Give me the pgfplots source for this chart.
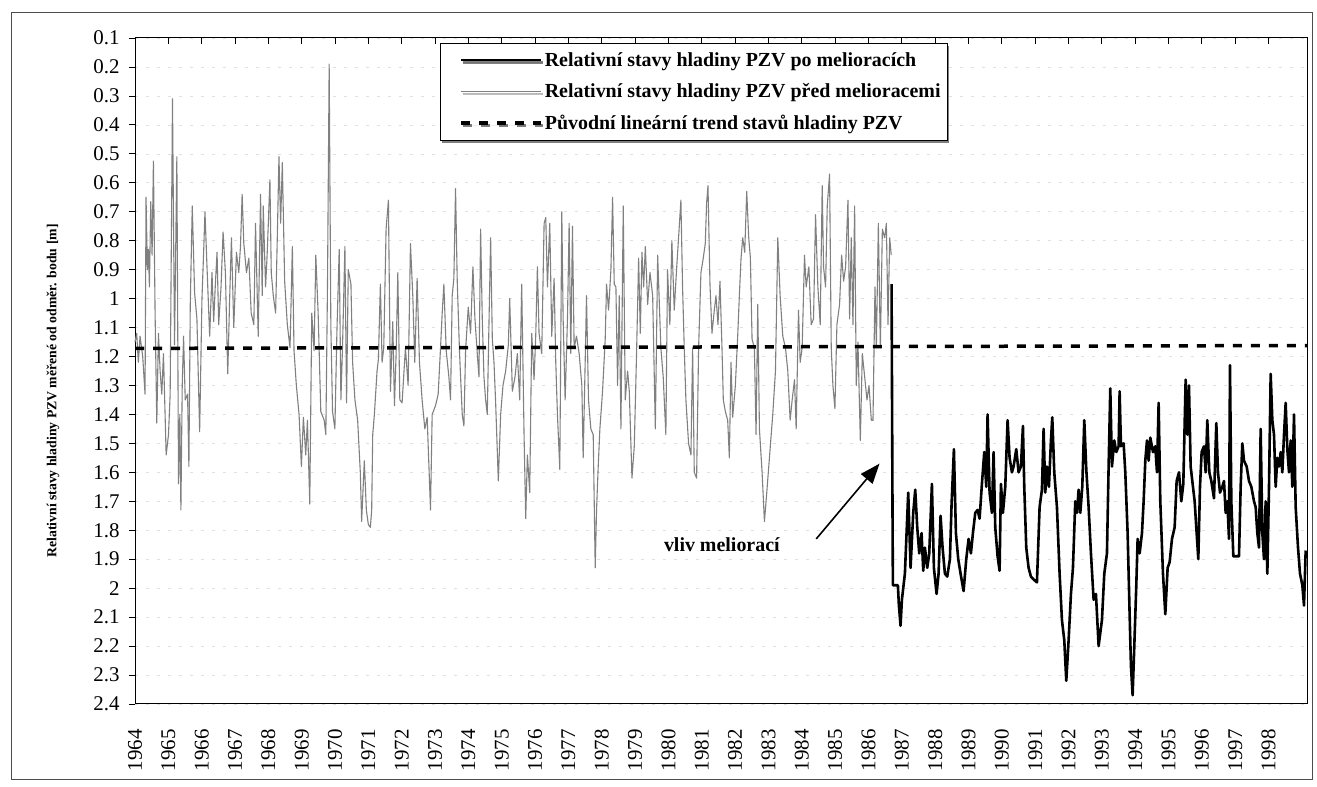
\documentclass[border=0pt]{standalone}
\usepackage{fontspec}
\setmainfont{Liberation Serif}
\usepackage{pgfplots}
\pgfplotsset{compat=1.18}
\usepackage{pgfplotstable}
\usetikzlibrary{arrows.meta,shadows}

\pgfplotstableread{
x y
1964.000 1.15
1964.050 1.12
1964.100 1.22
1964.151 1.13
1964.231 1.20
1964.301 1.33
1964.331 0.65
1964.371 0.90
1964.402 0.83
1964.432 0.96
1964.472 0.665
1964.512 0.85
1964.552 0.525
1964.602 1.05
1964.653 1.43
1964.703 1.12
1964.753 1.25
1964.803 1.33
1964.853 1.19
1964.934 1.54
1965.004 1.47
1965.054 1.33
1965.124 0.31
1965.185 1.16
1965.255 0.51
1965.305 1.64
1965.345 1.40
1965.376 1.73
1965.416 1.30
1965.456 1.13
1965.506 1.35
1965.576 1.33
1965.616 1.58
1965.657 1.02
1965.717 0.68
1965.787 0.98
1965.857 1.07
1965.938 1.46
1966.008 1.00
1966.058 0.84
1966.098 0.70
1966.159 0.89
1966.239 1.13
1966.309 0.91
1966.359 1.08
1966.410 0.95
1966.460 0.84
1966.510 1.09
1966.580 0.96
1966.641 0.77
1966.711 0.91
1966.781 1.26
1966.841 0.99
1966.892 0.79
1966.962 1.10
1967.042 0.84
1967.112 0.91
1967.163 0.82
1967.213 0.64
1967.263 0.81
1967.343 0.91
1967.414 0.86
1967.484 1.05
1967.564 1.09
1967.614 0.74
1967.695 1.13
1967.765 0.64
1967.815 0.99
1967.845 0.68
1967.916 0.96
1967.966 0.84
1968.046 0.59
1968.086 0.91
1968.147 0.99
1968.217 1.05
1968.267 0.79
1968.317 0.51
1968.367 0.74
1968.418 0.53
1968.488 0.94
1968.568 1.09
1968.649 1.17
1968.719 0.82
1968.769 1.18
1968.839 1.30
1968.920 1.40
1968.990 1.58
1969.050 1.41
1969.120 1.54
1969.171 1.42
1969.241 1.71
1969.301 1.05
1969.371 1.18
1969.422 0.85
1969.492 1.05
1969.572 1.39
1969.673 1.42
1969.723 1.47
1969.773 0.95
1969.823 0.19
1969.873 1.09
1969.924 1.39
1969.994 1.45
1970.054 1.12
1970.124 0.83
1970.175 1.35
1970.225 1.16
1970.295 0.82
1970.345 1.36
1970.396 0.90
1970.476 0.95
1970.526 1.22
1970.596 1.35
1970.677 1.42
1970.757 1.60
1970.797 1.77
1970.877 1.56
1970.938 1.73
1970.998 1.78
1971.058 1.79
1971.098 1.73
1971.129 1.47
1971.179 1.40
1971.259 1.25
1971.299 1.21
1971.359 0.95
1971.410 1.22
1971.460 1.17
1971.530 0.76
1971.600 0.66
1971.661 1.32
1971.731 1.08
1971.781 1.37
1971.831 1.19
1971.882 0.91
1971.942 1.35
1972.010 1.36
1972.110 1.17
1972.191 1.30
1972.261 0.81
1972.331 0.99
1972.391 1.22
1972.461 0.93
1972.531 1.22
1972.611 1.35
1972.692 1.45
1972.762 1.41
1972.862 1.73
1972.912 1.40
1973.012 1.37
1973.092 1.33
1973.163 1.17
1973.213 1.05
1973.263 0.95
1973.333 1.18
1973.413 1.27
1973.463 1.35
1973.513 0.99
1973.563 0.93
1973.613 0.62
1973.664 0.94
1973.734 1.19
1973.814 1.40
1973.864 1.44
1973.914 1.18
1973.994 1.03
1974.064 1.12
1974.134 0.89
1974.195 1.07
1974.265 1.19
1974.315 1.27
1974.365 0.76
1974.415 1.07
1974.465 1.27
1974.515 1.35
1974.565 1.40
1974.615 1.09
1974.666 0.79
1974.716 1.14
1974.766 1.22
1974.816 1.36
1974.896 1.63
1974.966 1.40
1975.036 1.30
1975.116 1.25
1975.197 1.16
1975.237 1.00
1975.317 1.32
1975.397 1.27
1975.467 1.19
1975.537 1.35
1975.597 0.95
1975.668 1.47
1975.718 1.76
1975.768 1.54
1975.838 1.67
1975.898 1.12
1975.968 1.28
1976.018 1.13
1976.068 0.89
1976.118 1.12
1976.198 1.19
1976.269 0.74
1976.319 0.72
1976.369 0.96
1976.439 0.74
1976.499 1.13
1976.569 0.93
1976.619 1.22
1976.669 1.40
1976.740 1.59
1976.800 0.70
1976.840 1.07
1976.900 1.35
1976.970 1.07
1977.020 0.74
1977.070 1.19
1977.120 0.75
1977.170 1.17
1977.241 1.13
1977.321 1.19
1977.401 1.30
1977.441 1.55
1977.501 1.22
1977.541 0.99
1977.601 1.35
1977.671 1.45
1977.742 1.47
1977.802 1.93
1977.842 1.73
1977.892 1.58
1977.942 1.45
1978.022 1.32
1978.102 1.14
1978.142 0.95
1978.202 1.04
1978.273 0.90
1978.323 0.65
1978.373 0.95
1978.423 0.96
1978.473 1.30
1978.523 0.99
1978.573 1.45
1978.643 0.68
1978.703 1.35
1978.774 1.25
1978.824 1.32
1978.904 1.62
1978.974 1.51
1979.044 1.18
1979.104 0.86
1979.154 1.12
1979.204 0.84
1979.255 0.96
1979.305 0.82
1979.375 1.02
1979.445 0.91
1979.525 0.99
1979.605 1.45
1979.675 0.85
1979.771 1.17
1979.841 1.27
1979.921 1.47
1979.971 0.90
1980.041 1.09
1980.101 0.80
1980.172 1.04
1980.242 0.90
1980.302 0.79
1980.372 0.66
1980.422 0.96
1980.472 1.17
1980.522 1.35
1980.602 1.50
1980.673 1.54
1980.723 1.17
1980.773 1.60
1980.843 1.62
1980.903 1.17
1980.973 0.91
1981.043 0.86
1981.103 0.81
1981.143 0.67
1981.184 0.61
1981.244 0.95
1981.304 1.12
1981.374 1.04
1981.424 0.99
1981.484 1.09
1981.544 0.94
1981.604 1.17
1981.644 1.35
1981.705 1.39
1981.775 1.42
1981.825 1.55
1981.875 1.22
1981.925 1.41
1982.005 1.30
1982.075 1.13
1982.125 0.99
1982.176 0.86
1982.226 0.79
1982.286 0.84
1982.346 0.63
1982.406 0.79
1982.456 0.86
1982.506 1.14
1982.576 1.17
1982.626 1.47
1982.677 1.02
1982.727 1.45
1982.807 1.60
1982.877 1.77
1982.947 1.67
1983.027 1.55
1983.127 1.40
1983.208 1.25
1983.278 0.79
1983.348 0.99
1983.428 1.13
1983.508 1.17
1983.578 1.25
1983.648 1.42
1983.709 1.35
1983.779 1.28
1983.829 1.45
1983.899 1.04
1983.949 1.22
1984.009 1.17
1984.079 0.85
1984.129 0.96
1984.210 0.89
1984.280 1.09
1984.350 1.07
1984.410 0.71
1984.480 0.96
1984.550 1.09
1984.610 0.61
1984.650 0.89
1984.711 0.96
1984.761 0.68
1984.831 0.57
1984.881 1.17
1984.931 1.30
1984.991 1.38
1985.051 1.09
1985.131 1.02
1985.192 0.85
1985.252 0.94
1985.312 0.89
1985.382 0.66
1985.432 1.07
1985.482 0.79
1985.532 1.09
1985.582 0.68
1985.632 1.30
1985.682 1.15
1985.753 1.49
1985.813 1.19
1985.883 1.27
1985.953 1.35
1986.013 1.30
1986.083 1.42
1986.133 1.42
1986.193 0.96
1986.234 1.17
1986.294 0.74
1986.354 1.17
1986.414 0.76
1986.484 0.79
1986.534 0.74
1986.584 1.09
1986.634 0.79
1986.680 0.85
}\before

\pgfplotstableread{
x y
1986.690 0.95
1986.720 1.77
1986.730 1.99
1986.880 1.99
1986.910 2.06
1986.960 2.13
1987.000 2.04
1987.040 2.00
1987.090 1.95
1987.140 1.81
1987.190 1.67
1987.260 1.93
1987.340 1.74
1987.400 1.66
1987.460 1.79
1987.520 1.88
1987.590 1.81
1987.640 1.94
1987.690 1.86
1987.760 1.93
1987.820 1.88
1987.900 1.64
1987.960 1.93
1988.040 2.02
1988.100 1.95
1988.160 1.75
1988.220 1.86
1988.290 1.95
1988.360 1.96
1988.440 1.90
1988.490 1.71
1988.560 1.52
1988.620 1.81
1988.690 1.90
1988.760 1.95
1988.850 2.01
1988.930 1.90
1989.000 1.83
1989.070 1.88
1989.130 1.81
1989.200 1.74
1989.270 1.73
1989.330 1.76
1989.400 1.64
1989.470 1.53
1989.530 1.65
1989.570 1.40
1989.630 1.67
1989.700 1.74
1989.750 1.53
1989.800 1.79
1989.870 1.89
1989.930 1.94
1989.970 1.64
1990.030 1.74
1990.100 1.65
1990.170 1.42
1990.230 1.55
1990.300 1.60
1990.350 1.58
1990.430 1.52
1990.500 1.60
1990.570 1.58
1990.630 1.44
1990.670 1.65
1990.730 1.86
1990.800 1.93
1990.870 1.96
1990.950 1.97
1991.050 1.98
1991.130 1.72
1991.200 1.66
1991.250 1.45
1991.300 1.67
1991.350 1.58
1991.410 1.65
1991.470 1.49
1991.510 1.41
1991.570 1.60
1991.650 1.72
1991.730 1.95
1991.800 2.11
1991.870 2.18
1991.930 2.32
1992.000 2.18
1992.070 2.02
1992.130 1.93
1992.200 1.70
1992.250 1.74
1992.300 1.66
1992.350 1.74
1992.410 1.65
1992.470 1.42
1992.530 1.59
1992.600 1.72
1992.670 1.88
1992.750 2.04
1992.820 2.02
1992.900 2.20
1993.000 2.11
1993.070 1.95
1993.150 1.88
1993.200 1.58
1993.250 1.31
1993.300 1.58
1993.370 1.49
1993.430 1.53
1993.500 1.51
1993.530 1.32
1993.570 1.51
1993.650 1.50
1993.700 1.60
1993.770 1.81
1993.830 2.09
1993.870 2.27
1993.920 2.37
1993.970 2.20
1994.030 1.99
1994.070 1.83
1994.130 1.88
1994.200 1.81
1994.250 1.70
1994.300 1.56
1994.350 1.49
1994.400 1.56
1994.450 1.48
1994.530 1.53
1994.600 1.51
1994.650 1.60
1994.700 1.36
1994.750 1.70
1994.830 1.95
1994.900 2.09
1994.970 1.93
1995.030 1.91
1995.100 1.83
1995.180 1.79
1995.240 1.63
1995.310 1.60
1995.380 1.70
1995.440 1.64
1995.510 1.28
1995.560 1.47
1995.610 1.30
1995.660 1.58
1995.710 1.63
1995.780 1.70
1995.840 1.81
1995.890 1.90
1995.940 1.65
1995.990 1.53
1996.060 1.51
1996.110 1.60
1996.160 1.42
1996.220 1.60
1996.280 1.63
1996.360 1.69
1996.430 1.43
1996.480 1.60
1996.540 1.67
1996.610 1.65
1996.660 1.63
1996.710 1.74
1996.760 1.70
1996.810 1.83
1996.840 1.23
1996.880 1.70
1996.940 1.89
1997.110 1.89
1997.160 1.65
1997.210 1.50
1997.260 1.56
1997.340 1.58
1997.410 1.63
1997.480 1.65
1997.560 1.70
1997.610 1.72
1997.660 1.81
1997.710 1.86
1997.760 1.45
1997.810 1.81
1997.860 1.90
1997.910 1.70
1997.960 1.95
1998.010 1.65
1998.060 1.26
1998.110 1.42
1998.160 1.47
1998.210 1.65
1998.260 1.55
1998.310 1.58
1998.360 1.53
1998.410 1.60
1998.460 1.47
1998.510 1.36
1998.560 1.52
1998.610 1.60
1998.660 1.49
1998.710 1.65
1998.760 1.40
1998.810 1.72
1998.880 1.86
1998.940 1.95
1999.010 1.99
1999.060 2.06
1999.110 1.87
}\after

\pgfplotstableread{
x y
1964.00 1.172
1999.15 1.162
}\trend

\begin{document}
\begin{tikzpicture}
\begin{axis}[
  scale only axis,
  width=1172bp, height=666bp,
  xmin=1964, xmax=1999.15,
  ymin=0.1, ymax=2.4,
  y dir=reverse,
  clip=false,
  axis line style={black, line width=1bp},
  xtick={1964,...,1998},
  ytick={0.1,0.2,...,2.41},
  xtick pos=right,
  xticklabel pos=left,
  ytick pos=left,
  tick align=inside,
  major tick length=6bp,
  tick style={black, line width=0.8bp},
  y tick style={xshift=-6bp},
  ymajorgrids,
  major grid style={black!12, line width=0.6bp, dash pattern=on 3bp off 8bp},
  /pgf/number format/assume math mode=true,
  ticklabel style={font=\fontsize{21}{21}\selectfont},
  xticklabel style={rotate=90, anchor=east, /pgf/number format/1000 sep={}},
  xticklabel shift=22bp,
  yticklabel style={/pgf/number format/.cd, fixed, precision=1},
  yticklabel shift=12bp,
  ylabel={Relativní stavy hladiny PZV měřené od odměr. bodu [m]},
  every axis y label/.style={at={(axis description cs:-0.070,0.47)}, rotate=90, anchor=center, font=\fontsize{13.8}{13.8}\selectfont\bfseries},
  legend style={at={(axis description cs:0.2602,0.9925)}, anchor=north west,
    draw=black, line width=0.8bp, fill=white,
    font=\fontsize{20}{20}\selectfont\bfseries,
    inner xsep=5bp, inner ysep=7bp, row sep=12bp,
    drop shadow={shadow xshift=1.5bp, shadow yshift=-2.5bp, fill=black}},
  legend cell align=left,
  legend image code/.code={\path (-14bp,0bp); \draw[#1] (0bp,0bp) -- (80bp,0bp);},
]
\addplot[black, line width=2.6bp, line join=round] table[x=x,y=y] {\after};
\addlegendentry{Relativní stavy hladiny PZV po melioracích}
\addplot[black!50, line width=1.1bp, line join=round] table[x=x,y=y] {\before};
\addlegendentry{Relativní stavy hladiny PZV před melioracemi}
\addplot[black, line width=3.5bp, dash pattern=on 9bp off 9bp] table[x=x,y=y] {\trend};
\addlegendentry{Původní lineární trend stavů hladiny PZV}

\node[font=\fontsize{20}{20}\selectfont\bfseries] at (axis cs:1981.6,1.85) {vliv meliorací};
\draw[line width=1.6bp, -{Triangle[length=20bp, width=15bp]}] (axis cs:1984.43,1.83) -- (axis cs:1986.33,1.57);

\draw[black!70, line width=1bp] (axis description cs:-0.105,-0.114) rectangle (axis description cs:1.0043,1.039);
\path (axis description cs:-0.1152,-0.12462) rectangle (axis description cs:1.00853,1.05706);
\end{axis}
\end{tikzpicture}
\end{document}
